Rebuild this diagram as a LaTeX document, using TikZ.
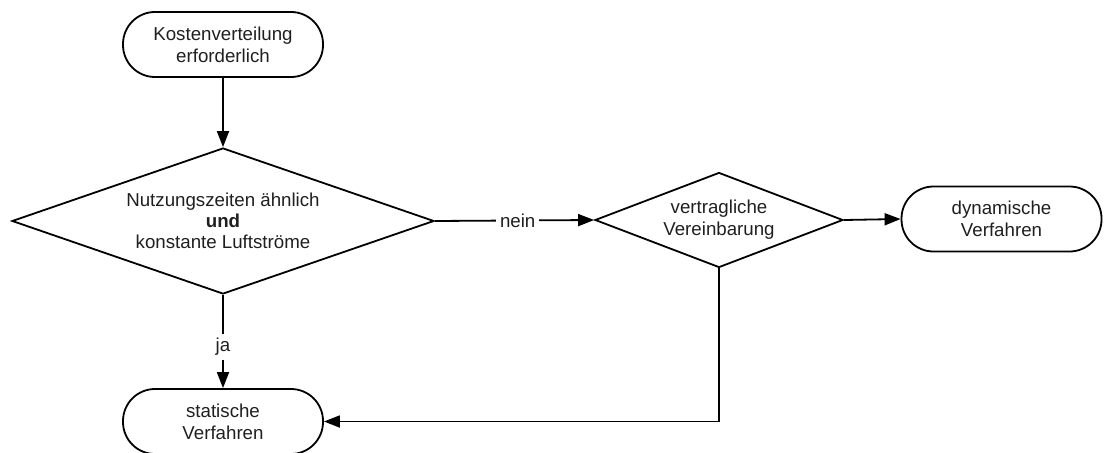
\documentclass[tikz,border=0pt]{standalone}
\usepackage{fontspec}
\setmainfont{Liberation Sans}
\usetikzlibrary{shapes.geometric,arrows.meta}
\begin{document}
\begin{tikzpicture}[x=1pt,y=-1pt,
  line width=1.8pt,
  txtfont/.style={font=\fontsize{18.7}{22}\selectfont, text=black!88},
  term/.style={draw, rounded corners=32pt, minimum width=200pt, minimum height=65pt,
               align=center, inner sep=0pt, txtfont},
  dia/.style={draw, diamond, inner sep=0pt},
  lbl/.style={align=center, inner sep=0pt, txtfont},
  edgelbl/.style={fill=white, inner sep=4pt, txtfont},
  arr/.style={-{Triangle[length=16pt,width=12pt]}},
]
\useasboundingbox (0,0) rectangle (1107,452);

\node[term] (start) at (223,44.5) {Kostenverteilung\\erforderlich};
\node[dia, minimum width=422pt, minimum height=146pt] (d1) at (223,221) {};
\node[lbl, font=\fontsize{18.7}{21}\selectfont] (d1t) at (d1) {Nutzungszeiten ähnlich\\\textbf{und}\\konstante Luftströme};
\node[dia, minimum width=248pt, minimum height=95pt] (d2) at (719,220) {};
\node[lbl] (d2t) at (d2) {vertragliche\\Vereinbarung};
\node[term] (dyn) at (1001.5,219) {dynamische\\Verfahren};
\node[term] (stat) at (223,421.5) {statische\\Verfahren};

\draw[arr] (start) -- (d1.north);
\draw[arr] (d1.east) -- node[edgelbl, pos=0.52] (nein) {nein} (d2.west);
\draw[arr] (d2.east) -- (dyn.west);
\draw[arr] (d1.south) -- node[edgelbl, pos=0.56] (ja) {ja} (stat.north);
\draw[arr] (d2.south) |- (stat.east);
\end{tikzpicture}
\end{document}
